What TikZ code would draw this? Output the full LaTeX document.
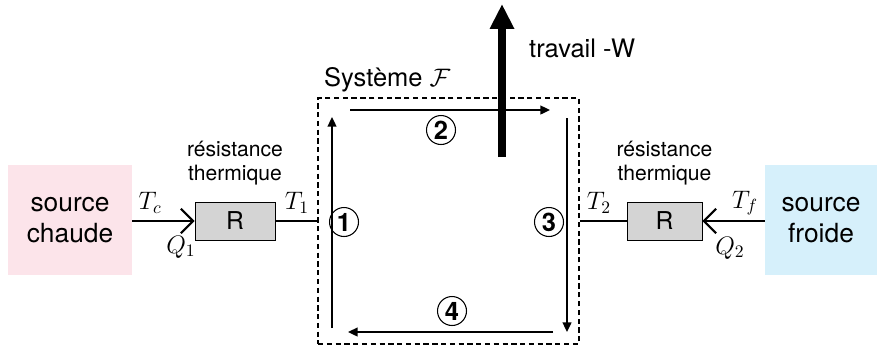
\documentclass[tikz,border=0pt]{standalone}
\usepackage{fontspec}
\setmainfont{TeX Gyre Heros}
\usetikzlibrary{arrows.meta}
\definecolor{chaude}{RGB}{252,228,234}
\definecolor{froide}{RGB}{214,240,251}
\begin{document}
\begin{tikzpicture}[x=0.02cm,y=-0.02cm,
  source/.style={minimum height=2.22cm,align=center,inner sep=0pt,
    font=\fontsize{15}{18}\selectfont},
  resist/.style={draw,fill=black!17,minimum height=0.76cm,inner sep=0pt,
    font=\fontsize{14}{16}\selectfont},
  label/.style={align=center,font=\fontsize{12}{13.5}\selectfont},
  fil/.style={thick},
  flux/.style={thick,-{Straight Barb[length=7pt,width=14pt,line width=1.2pt]}},
  cycle/.style={line width=1.1pt,-{Triangle[length=5.5pt,width=5pt]}},
  num/.style={circle,draw,line width=0.6pt,minimum size=0.58cm,inner sep=0pt,
    font=\bfseries\fontsize{14.5}{14.5}\selectfont},
  temp/.style={font=\fontsize{14}{14}\selectfont}]
  \useasboundingbox (0,0) rectangle (878,349);

  % Sources
  \node[source,fill=chaude,minimum width=2.48cm] (chaude) at (70,220) {source\\chaude};
  \node[source,fill=froide,minimum width=2.24cm] (froide) at (821,220) {source\\froide};

  % Systeme
  \node[draw,densely dashed,line width=1.1pt,minimum width=5.22cm,
    minimum height=4.92cm] (sys) at (448.5,221) {};
  \node[anchor=west,font=\fontsize{14.5}{14.5}\selectfont] (nom) at (318,80) {Système $\mathcal{F}$};

  % Resistances
  \node[resist,minimum width=1.6cm] (Rg) at (235,221) {R};
  \node[resist,minimum width=1.5cm] (Rd) at (664.5,221) {R};
  \node[label] (lg) at (235,163) {résistance\\thermique};
  \node[label] (ld) at (664.5,163) {résistance\\thermique};

  % Liaisons
  \draw[flux] (chaude.east |- Rg.west) -- (Rg.west);
  \draw[fil] (Rg.east) -- (sys.west |- Rg.east);
  \draw[flux] (froide.west |- Rd.east) -- (Rd.east);
  \draw[fil] (Rd.west) -- (sys.east |- Rd.west);

  % Temperatures et chaleurs
  \node[temp] (Tc) at (150,203) {$T_c$};
  \node[temp] (Q1) at (181,247) {$Q_1$};
  \node[temp] (T1) at (297,203) {$T_1$};
  \node[temp] (T2) at (599,203) {$T_2$};
  \node[temp] (Tf) at (745,203) {$T_f$};
  \node[temp] (Q2) at (730,248) {$Q_2$};

  % Cycle
  \coordinate (a1) at (332,328); \coordinate (b1) at (332,117);
  \coordinate (a2) at (350,110); \coordinate (b2) at (550,110);
  \coordinate (a3) at (567,118); \coordinate (b3) at (567,332);
  \coordinate (a4) at (553,332); \coordinate (b4) at (348,332);
  \draw[cycle] (a1) -- (b1);
  \draw[cycle] (a2) -- (b2);
  \draw[cycle] (a3) -- (b3);
  \draw[cycle] (a4) -- (b4);
  \node[num] (n1) at (344,222) {1};
  \node[num] (n2) at (441,130) {2};
  \node[num] (n3) at (549,222) {3};
  \node[num] (n4) at (452,311) {4};

  % Travail
  \coordinate (w0) at (502,157);
  \coordinate (w1) at (502,4);
  \draw[line width=4pt,-{Triangle[length=0.5cm,width=0.46cm]}] (w0) -- (w1);
  \node[anchor=west,font=\fontsize{14.5}{14.5}\selectfont] (trav) at (523,48) {travail -W};
\end{tikzpicture}
\end{document}
